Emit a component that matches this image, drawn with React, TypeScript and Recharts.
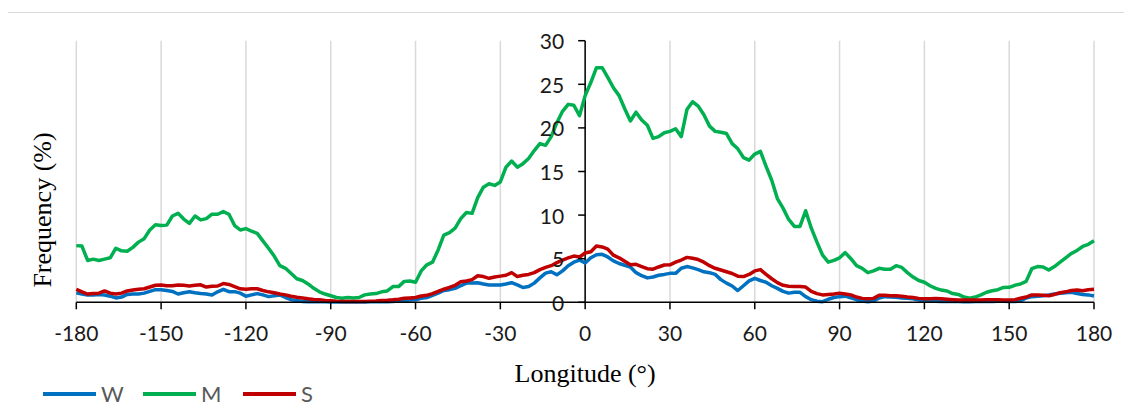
import React from 'react';
import { LineChart, Line, XAxis, YAxis, CartesianGrid, ReferenceLine, Legend, Label } from 'recharts';

// longitude grid, every 2 degrees from -180 to 180
const LON: number[] = Array.from({ length: 181 }, (_, i) => -180 + i * 2);

const W_VALUES = [
  1.1, 0.95, 0.84, 0.85, 0.9, 0.84, 0.7, 0.5, 0.6, 0.9,
  0.95, 0.95, 1.05, 1.25, 1.45, 1.45, 1.35, 1.25, 0.95, 1.1,
  1.22, 1.1, 1.0, 0.95, 0.84, 1.2, 1.49, 1.22, 1.22, 1.05,
  0.7, 0.85, 1.0, 0.85, 0.65, 0.75, 0.84, 0.55, 0.3, 0.2,
  0.1, 0.05, 0.05, 0.05, 0.05, 0.04, 0.04, 0.04, 0.04, 0.04,
  0.04, 0.04, 0.05, 0.05, 0.05, 0.07, 0.1, 0.15, 0.2, 0.25,
  0.3, 0.45, 0.55, 0.8, 1.05, 1.35, 1.45, 1.6, 1.9, 2.2,
  2.2, 2.25, 2.1, 1.98, 1.98, 1.98, 2.1, 2.25, 2.0, 1.7,
  1.8, 2.2, 2.8, 3.35, 3.5, 3.15, 3.6, 4.2, 4.6, 4.85,
  4.5, 5.1, 5.45, 5.5, 5.2, 4.75, 4.45, 4.25, 4.05, 3.4,
  3.05, 2.8, 2.9, 3.1, 3.2, 3.32, 3.32, 3.9, 4.1, 3.95,
  3.75, 3.5, 3.4, 3.2, 2.6, 2.2, 1.87, 1.35, 1.9, 2.45,
  2.75, 2.5, 2.3, 1.9, 1.6, 1.25, 1.05, 1.15, 1.15, 0.65,
  0.3, 0.12, 0.07, 0.35, 0.55, 0.65, 0.7, 0.5, 0.3, 0.15,
  0.07, 0.15, 0.5, 0.65, 0.6, 0.57, 0.5, 0.45, 0.4, 0.25,
  0.18, 0.15, 0.12, 0.1, 0.1, 0.08, 0.08, 0.07, 0.07, 0.08,
  0.08, 0.1, 0.1, 0.12, 0.12, 0.1, 0.1, 0.15, 0.5, 0.65,
  0.7, 0.75, 0.84, 0.95, 1.03, 1.1, 1.15, 1.0, 0.9, 0.85,
  0.72,
];

const M_VALUES = [
  6.5, 6.45, 4.8, 4.95, 4.8, 4.95, 5.1, 6.2, 5.9, 5.85,
  6.3, 6.9, 7.3, 8.3, 8.9, 8.8, 8.85, 9.9, 10.2, 9.55,
  9.05, 9.9, 9.45, 9.6, 10.1, 10.1, 10.4, 10.1, 8.8, 8.3,
  8.45, 8.15, 7.9, 7.05, 6.2, 5.3, 4.2, 3.9, 3.3, 2.7,
  2.5, 2.1, 1.6, 1.2, 0.95, 0.75, 0.55, 0.46, 0.55, 0.5,
  0.55, 0.85, 0.95, 1.0, 1.2, 1.3, 1.8, 1.8, 2.4, 2.45,
  2.3, 3.6, 4.3, 4.6, 6.0, 7.7, 8.0, 8.5, 9.6, 10.3,
  10.2, 12.0, 13.2, 13.6, 13.4, 13.8, 15.5, 16.2, 15.5, 15.9,
  16.5, 17.4, 18.2, 18.0, 19.0, 20.6, 21.9, 22.7, 22.6, 21.4,
  23.7, 25.2, 26.9, 26.9, 25.8, 24.6, 23.7, 22.2, 20.8, 21.8,
  20.9, 20.3, 18.8, 19.0, 19.45, 19.6, 19.9, 19.0, 22.1, 23.0,
  22.5, 21.5, 20.2, 19.6, 19.5, 19.35, 18.2, 17.6, 16.6, 16.3,
  17.0, 17.3, 15.6, 14.0, 11.9, 10.8, 9.5, 8.7, 8.7, 10.5,
  8.5, 6.9, 5.4, 4.6, 4.8, 5.1, 5.7, 5.0, 4.2, 3.9,
  3.4, 3.6, 3.9, 3.8, 3.8, 4.2, 4.0, 3.4, 2.9, 2.5,
  2.3, 1.9, 1.6, 1.4, 1.3, 1.0, 0.9, 0.6, 0.46, 0.6,
  0.85, 1.15, 1.33, 1.45, 1.7, 1.72, 1.95, 2.1, 2.4, 3.85,
  4.1, 4.05, 3.7, 4.1, 4.6, 5.1, 5.6, 5.95, 6.4, 6.65,
  7.05,
];

const S_VALUES = [
  1.5, 1.2, 0.95, 1.0, 1.05, 1.3, 1.05, 0.95, 1.05, 1.3,
  1.4, 1.5, 1.55, 1.75, 1.95, 1.98, 1.9, 1.9, 1.98, 1.95,
  1.87, 1.95, 2.0, 1.75, 1.85, 1.87, 2.15, 2.05, 1.8, 1.55,
  1.5, 1.55, 1.55, 1.35, 1.2, 1.1, 0.95, 0.85, 0.7, 0.57,
  0.5, 0.4, 0.33, 0.28, 0.22, 0.18, 0.12, 0.1, 0.1, 0.1,
  0.1, 0.1, 0.12, 0.15, 0.2, 0.23, 0.28, 0.36, 0.46, 0.5,
  0.55, 0.72, 0.8, 1.0, 1.25, 1.5, 1.7, 1.95, 2.35, 2.45,
  2.6, 3.05, 2.95, 2.75, 2.9, 3.0, 3.1, 3.4, 2.95, 3.1,
  3.2, 3.4, 3.75, 4.0, 4.2, 4.55, 4.85, 5.1, 5.3, 5.2,
  5.65, 5.8, 6.45, 6.35, 6.1, 5.4, 5.1, 4.7, 4.3, 4.35,
  4.1, 3.85, 3.8, 4.05, 4.28, 4.3, 4.6, 4.85, 5.15, 5.05,
  4.9, 4.6, 4.2, 3.9, 3.7, 3.5, 3.3, 3.0, 2.95, 3.2,
  3.6, 3.75, 3.2, 2.7, 2.25, 1.95, 1.85, 1.8, 1.8, 1.75,
  1.25, 1.0, 0.85, 0.9, 0.95, 1.05, 0.95, 0.85, 0.6, 0.45,
  0.4, 0.45, 0.8, 0.8, 0.75, 0.75, 0.7, 0.6, 0.55, 0.45,
  0.4, 0.42, 0.45, 0.4, 0.35, 0.3, 0.26, 0.25, 0.25, 0.26,
  0.26, 0.28, 0.28, 0.28, 0.26, 0.26, 0.3, 0.46, 0.6, 0.84,
  0.85, 0.8, 0.75, 0.9, 1.1, 1.2, 1.35, 1.4, 1.33, 1.45,
  1.5,
];

const X_TICKS = [-180, -150, -120, -90, -60, -30, 0, 30, 60, 90, 120, 150, 180];
const Y_TICKS = [0, 5, 10, 15, 20, 25, 30];

const SERIES = [
  { key: 'W', color: '#0070C0' },
  { key: 'M', color: '#00B050' },
  { key: 'S', color: '#C00000' },
];

const data = LON.map((lon, i) => ({ lon, W: W_VALUES[i], M: M_VALUES[i], S: S_VALUES[i] }));

const CHART_W = 1132;
const CHART_H = 414;
const Y_AXIS_W = 20;
const MARGIN = { top: 40.7, right: 38, left: 76.3 - Y_AXIS_W, bottom: 81.7 };
const PLOT_LEFT = MARGIN.left + Y_AXIS_W;
const ZERO_X = PLOT_LEFT + (CHART_W - PLOT_LEFT - MARGIN.right) / 2;
const TICK_FONT = 'Lato, "Open Sans", sans-serif';
const TITLE_FONT = '"Liberation Serif", "Times New Roman", serif';

// y axis sits on longitude 0, so its ticks are drawn there
const renderYTick = (props: any) => {
  const { y, payload } = props;
  return (
    <g key={`yt-${payload.value}`}>
      <line x1={ZERO_X - 7} x2={ZERO_X} y1={y} y2={y} stroke="#000" strokeWidth={1.5} />
      <text
        x={ZERO_X - 21}
        y={y}
        textAnchor="end"
        dominantBaseline="central"
        fill="#1a1a1a"
        fontSize={21}
        fontFamily={TICK_FONT}
      >
        {payload.value}
      </text>
    </g>
  );
};

const renderYTitle = () => (
  <text
    x={42}
    y={210}
    transform="rotate(-90 42 210)"
    textAnchor="middle"
    dominantBaseline="central"
    fill="#000"
    fontSize={26}
    fontFamily={TITLE_FONT}
  >
    Frequency (%)
  </text>
);

const LegendContent = () => (
  <div style={{ display: 'flex', fontFamily: TICK_FONT, fontSize: 22, color: '#595959' }}>
    {SERIES.map((s) => (
      <div key={s.key} style={{ display: 'flex', alignItems: 'center', width: 100 }}>
        <span style={{ display: 'inline-block', width: 53, height: 4, background: s.color, marginRight: 5 }} />
        <span>{s.key}</span>
      </div>
    ))}
  </div>
);

export default function App() {
  return (
    <div style={{ margin: -8, width: CHART_W, height: CHART_H, position: 'relative', overflow: 'hidden', background: '#fff' }}>
      <div
        style={{
          position: 'absolute',
          left: 7,
          top: 12,
          width: 1200,
          height: 500,
          border: '1px solid #d9d9d9',
        }}
      />
      <div style={{ position: 'absolute', left: 0, top: 0 }}>
        <LineChart width={CHART_W} height={CHART_H} data={data} margin={MARGIN}>
          <CartesianGrid horizontal={false} stroke="#d9d9d9" strokeWidth={1.5} />
          <XAxis
            dataKey="lon"
            type="number"
            domain={[-180, 180]}
            ticks={X_TICKS}
            interval={0}
            height={30}
            axisLine={{ stroke: '#000', strokeWidth: 1.5 }}
            tickLine={{ stroke: '#000', strokeWidth: 1.5 }}
            tickSize={7}
            tickMargin={17}
            tick={{ fill: '#1a1a1a', fontSize: 21, fontFamily: TICK_FONT }}
          >
            <Label
              value="Longitude (°)"
              position="bottom"
              offset={31}
              fill="#000"
              fontSize={26}
              fontFamily={TITLE_FONT}
            />
          </XAxis>
          <YAxis
            type="number"
            domain={[0, 30]}
            ticks={Y_TICKS}
            interval={0}
            width={Y_AXIS_W}
            axisLine={false}
            tickLine={false}
            tick={renderYTick}
          >
            <Label content={renderYTitle} />
          </YAxis>
          <ReferenceLine x={0} stroke="#000" strokeWidth={1.5} />
          {SERIES.map((s) => (
            <Line
              key={s.key}
              dataKey={s.key}
              type="linear"
              stroke={s.color}
              strokeWidth={3.5}
              strokeLinejoin="round"
              dot={false}
              isAnimationActive={false}
            />
          ))}
          <Legend
            layout="horizontal"
            verticalAlign="middle"
            align="center"
            content={<LegendContent />}
            wrapperStyle={{ left: 43, top: 380, width: 320, height: 28 }}
          />
        </LineChart>
      </div>
    </div>
  );
}
